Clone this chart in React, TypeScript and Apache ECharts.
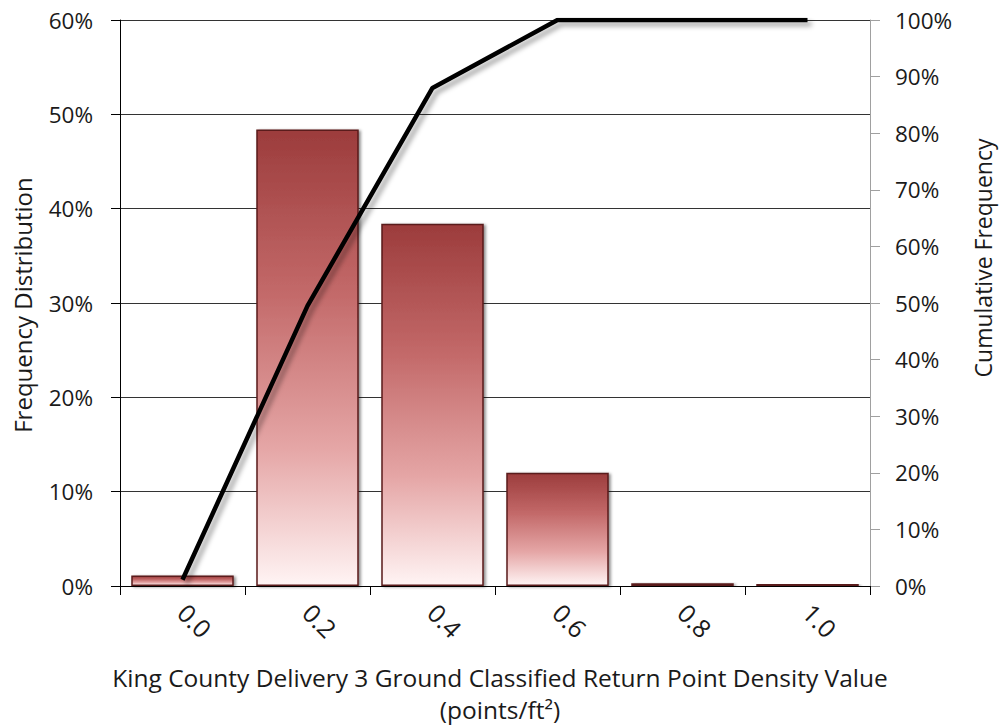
import React, { useEffect, useRef } from "react";
import * as echarts from "echarts";

const categories = ["0.0", "0.2", "0.4", "0.6", "0.8", "1.0"];
const frequency = [0.011, 0.484, 0.384, 0.12, 0.003, 0.002];
const cumulative = [0.011, 0.495, 0.88, 1.0, 1.0, 1.0];
const leftTicks = { min: 0, max: 0.6, interval: 0.1 };
const rightTicks = { min: 0, max: 1, interval: 0.1 };
const xTitle = "King County Delivery 3 Ground Classified Return Point Density Value";
const xTitle2 = "(points/ft²)";
const yLeftTitle = "Frequency Distribution";
const yRightTitle = "Cumulative Frequency";

const FONT = "Open Sans";

export default function App() {
  const ref = useRef<HTMLDivElement>(null);
  useEffect(() => {
    if (!ref.current) return;
    const chart = echarts.init(ref.current, undefined, { renderer: "svg" });
    const pct = (v: number) => `${Math.round(v * 100)}%`;
    chart.setOption({
      animation: false,
      backgroundColor: "#ffffff",
      grid: { left: 120, right: 131, top: 20, bottom: 141, containLabel: false },
      xAxis: {
        type: "category",
        data: categories,
        boundaryGap: true,
        axisLine: { lineStyle: { color: "#000", width: 1 } },
        axisTick: { show: true, length: 9, alignWithLabel: false, lineStyle: { color: "#000" } },
        axisLabel: {
          rotate: -45,
          margin: 22,
          interval: 0,
          fontFamily: FONT,
          fontSize: 25,
          color: "#1a1a1a",
        },
        splitLine: { show: false },
      },
      yAxis: [
        {
          type: "value",
          min: leftTicks.min,
          max: leftTicks.max,
          interval: leftTicks.interval,
          axisLine: { show: true, lineStyle: { color: "#000", width: 1 } },
          axisTick: { show: true, length: 9, lineStyle: { color: "#000" } },
          axisLabel: {
            formatter: pct,
            margin: 27,
            fontFamily: FONT,
            fontSize: 22.5,
            color: "#1a1a1a",
          },
          splitLine: { show: true, lineStyle: { color: "#333", width: 1 } },
        },
        {
          type: "value",
          position: "right",
          min: rightTicks.min,
          max: rightTicks.max,
          interval: rightTicks.interval,
          axisLine: { show: true, lineStyle: { color: "#a0a0a0", width: 1 } },
          axisTick: { show: true, length: 10, lineStyle: { color: "#a0a0a0" } },
          axisLabel: {
            formatter: pct,
            margin: 25,
            fontFamily: FONT,
            fontSize: 22.5,
            color: "#1a1a1a",
          },
          splitLine: { show: false },
        },
      ],
      series: [
        {
          type: "bar",
          data: frequency,
          yAxisIndex: 0,
          barWidth: "82%",
          itemStyle: {
            color: new echarts.graphic.LinearGradient(0, 0, 0, 1, [
              { offset: 0, color: "#9c3c3c" },
              { offset: 0.35, color: "#c26868" },
              { offset: 0.7, color: "#e5a6a6" },
              { offset: 1, color: "#fff4f4" },
            ]),
            borderColor: "#5a1a1a",
            borderWidth: 1.5,
            shadowColor: "rgba(0,0,0,0.45)",
            shadowBlur: 3,
            shadowOffsetX: 2,
            shadowOffsetY: 1,
          },
          z: 2,
        },
        {
          type: "line",
          data: cumulative,
          yAxisIndex: 1,
          symbol: "none",
          lineStyle: {
            color: "#000",
            width: 4.5,
            shadowColor: "rgba(0,0,0,0.35)",
            shadowBlur: 5,
            shadowOffsetX: 4,
            shadowOffsetY: 4,
          },
          z: 3,
        },
      ],
      graphic: [
        {
          type: "text",
          x: 500,
          y: 677,
          style: {
            text: xTitle,
            fontFamily: FONT,
            fontSize: 24.5,
            fill: "#1a1a1a",
            align: "center",
            verticalAlign: "middle",
          },
        },
        {
          type: "text",
          x: 500,
          y: 709,
          style: {
            text: xTitle2,
            fontFamily: FONT,
            fontSize: 24.5,
            fill: "#1a1a1a",
            align: "center",
            verticalAlign: "middle",
          },
        },
        {
          type: "text",
          x: 22,
          y: 305,
          rotation: Math.PI / 2,
          style: {
            text: yLeftTitle,
            fontFamily: FONT,
            fontSize: 24,
            fill: "#1a1a1a",
            align: "center",
            verticalAlign: "middle",
          },
        },
        {
          type: "text",
          x: 983,
          y: 258,
          rotation: Math.PI / 2,
          style: {
            text: yRightTitle,
            fontFamily: FONT,
            fontSize: 23,
            fill: "#1a1a1a",
            align: "center",
            verticalAlign: "middle",
          },
        },
      ],
    });
    return () => chart.dispose();
  }, []);
  return <div ref={ref} style={{ width: 1001, height: 727, position: "absolute", left: 0, top: 0 }} />;
}
